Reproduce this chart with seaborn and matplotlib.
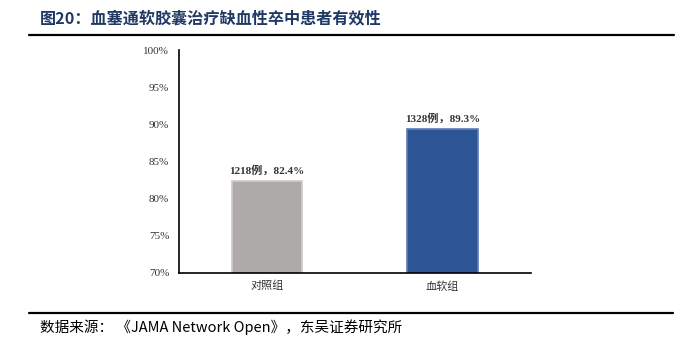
import matplotlib
matplotlib.use("Agg")
import matplotlib.pyplot as plt
import seaborn as sns
import pandas as pd
from matplotlib.lines import Line2D
from matplotlib.ticker import FuncFormatter

groups = ["对照组", "血软组"]
rates = [82.4, 89.3]
cases = [1218, 1328]
colors = ["#AEAAA9", "#2E5596"]
edge_colors = ["#CFCBCA", "#5A7DB8"]
title = "图20：血塞通软胶囊治疗缺血性卒中患者有效性"
source = "数据来源： 《JAMA Network Open》，东吴证券研究所"

sns.set_theme(style="white")
plt.rcParams["font.family"] = ["Liberation Serif", "Noto Sans CJK SC", "DejaVu Sans"]
plt.rcParams["axes.unicode_minus"] = False

df = pd.DataFrame({"group": groups, "rate": rates})

W, H = 691, 356
fig = plt.figure(figsize=(W / 100, H / 100), dpi=100)
ax = fig.add_axes([179 / W, 1 - 272.5 / H, (530.5 - 179) / W, (272.5 - 50) / H])

sns.barplot(data=df, x="group", y="rate", hue="group", palette=colors,
            width=0.4, legend=False, ax=ax, saturation=1)
for p, ec in zip(ax.patches, edge_colors):
    p.set_edgecolor(ec)
    p.set_linewidth(1.2)

ax.set_ylim(70, 100)
ax.set_yticks([70, 75, 80, 85, 90, 95, 100])
ax.yaxis.set_major_formatter(FuncFormatter(lambda v, _: f"{int(v)}%"))
ax.set_xlabel("")
ax.set_ylabel("")
for s in ["top", "right"]:
    ax.spines[s].set_visible(False)
for s in ["left", "bottom"]:
    ax.spines[s].set_color("#000000")
    ax.spines[s].set_linewidth(1.2)
ax.tick_params(axis="y", which="major", direction="out", length=3, width=0.8,
               color="#000000", labelsize=8, labelcolor="#333333", pad=4)
ax.tick_params(axis="x", length=0, pad=6)
for lbl in ax.get_xticklabels():
    lbl.set_fontfamily(["Noto Sans CJK SC"])
    lbl.set_fontsize(8)
    lbl.set_color("#333333")

for i, (r, c) in enumerate(zip(rates, cases)):
    ax.text(i, r + 0.7, f"{c}例，{r}%", ha="center", va="bottom",
            fontsize=8, fontweight="bold", color="#333333",
            family=["Liberation Serif", "Noto Sans CJK SC"])

fig.text(40 / W, 1 - 18 / H, title, ha="left", va="center", fontsize=11.6,
         fontweight="bold", color="#1F3864", family=["Noto Sans CJK SC"])
fig.add_artist(Line2D([29 / W, 674 / W], [1 - 35 / H, 1 - 35 / H],
                      transform=fig.transFigure, color="#000000", linewidth=1.6))
fig.add_artist(Line2D([29 / W, 673 / W], [1 - 313 / H, 1 - 313 / H],
                      transform=fig.transFigure, color="#000000", linewidth=1.6))
fig.text(40 / W, 1 - 327 / H, source, ha="left", va="center", fontsize=10.5,
         color="#000000", family=["Noto Sans CJK SC", "DejaVu Sans"])

fig.savefig("out.png", dpi=100)
